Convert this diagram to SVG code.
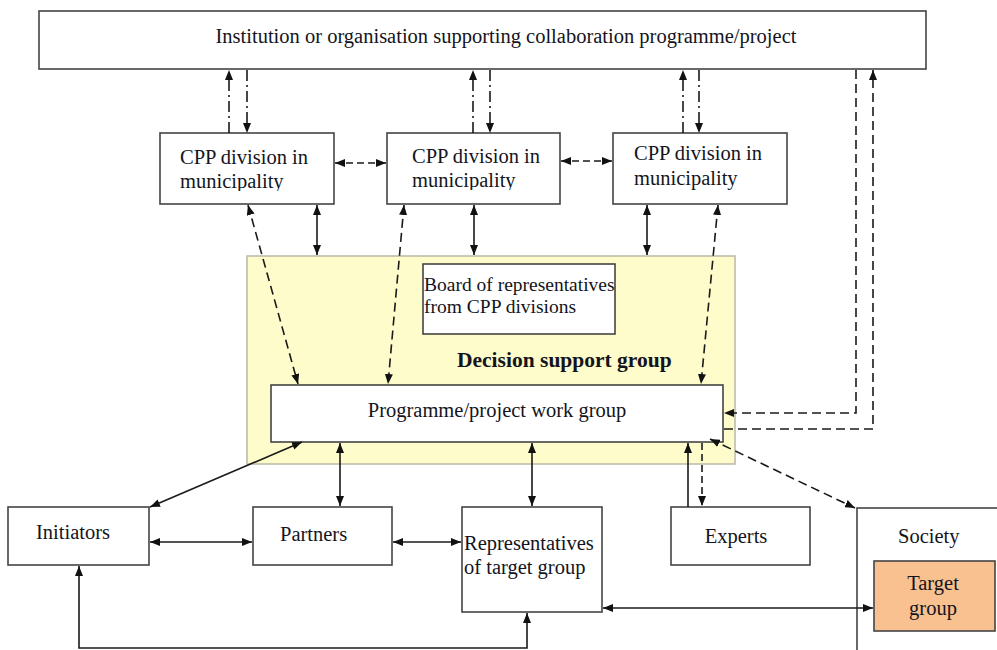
<svg xmlns="http://www.w3.org/2000/svg" width="997" height="650" viewBox="0 0 997 650">
<style>
text{font-family:"Liberation Serif","Times New Roman",serif;font-size:20.5px;fill:#141420}
.box{fill:#fff;stroke:#444;stroke-width:1.6}
.ln{fill:none;stroke:#1a1a1a;stroke-width:1.6}
.dd{stroke-dasharray:11,4,2,4}
.da{stroke-dasharray:9,5}
.ds{stroke-dasharray:7,4}
</style>
<defs>
<marker id="a" viewBox="0 0 10 8" refX="10" refY="4" markerWidth="10" markerHeight="8" orient="auto-start-reverse" markerUnits="userSpaceOnUse"><path d="M0,0 L10,4 L0,8 z" fill="#111"/></marker>
<clipPath id="c1"><rect x="160" y="133" width="174" height="58"/></clipPath>
<clipPath id="c2"><rect x="387" y="133" width="173" height="57"/></clipPath>
</defs>

<g id="institution">
<rect class="box" x="39" y="11" width="887" height="58"/>
<text x="506" y="43" text-anchor="middle">Institution or organisation supporting collaboration programme/project</text>
</g>
<g id="cpp1">
<rect class="box" x="160" y="133" width="174" height="71"/>
<g clip-path="url(#c1)"><text x="180" y="164">CPP division in</text><text x="180" y="188">municipality</text></g>
</g>
<g id="cpp2">
<rect class="box" x="387" y="133" width="173" height="71"/>
<g clip-path="url(#c2)"><text x="412" y="163">CPP division in</text><text x="412" y="187">municipality</text></g>
</g>
<g id="cpp3">
<rect class="box" x="613" y="133" width="174" height="71"/>
<text x="634" y="160">CPP division in</text><text x="634" y="185">municipality</text>
</g>
<g id="decision-support-group">
<rect x="247" y="256" width="488" height="208" fill="#fdfcca" stroke="#b8b8a8" stroke-width="1.5"/>
<text x="457" y="367" font-weight="bold" style="font-size:21.5px">Decision support group</text>
</g>
<g id="board">
<rect class="box" x="423" y="264" width="192" height="70"/>
<text x="424" y="291" style="font-size:19.5px">Board of representatives</text>
<text x="424" y="313" style="font-size:19.5px">from CPP divisions</text>
</g>
<g id="work-group">
<rect class="box" x="271" y="385" width="452" height="57"/>
<text x="497" y="417" text-anchor="middle">Programme/project work group</text>
</g>
<g id="initiators">
<rect class="box" x="8" y="507" width="141" height="58"/>
<text x="36" y="539">Initiators</text>
</g>
<g id="partners">
<rect class="box" x="253" y="507" width="139" height="58"/>
<text x="280" y="541">Partners</text>
</g>
<g id="representatives">
<rect class="box" x="462" y="507" width="140" height="105"/>
<text x="464" y="550">Representatives</text>
<text x="464" y="574">of target group</text>
</g>
<g id="experts">
<rect class="box" x="671" y="507" width="139" height="58"/>
<text x="736" y="543" text-anchor="middle">Experts</text>
</g>
<g id="society">
<rect class="box" x="857" y="508" width="160" height="160"/>
<text x="898" y="543">Society</text>
</g>
<g id="target-group">
<rect x="874" y="561" width="121" height="70" fill="#f8c18f" stroke="#444" stroke-width="1.6"/>
<text x="933" y="590" text-anchor="middle">Target</text>
<text x="933" y="615" text-anchor="middle">group</text>
</g>

<g id="connectors">
<line class="ln dd" x1="229" y1="133" x2="229" y2="70" marker-end="url(#a)"/>
<line class="ln dd" x1="247" y1="70" x2="247" y2="133" marker-end="url(#a)"/>
<line class="ln dd" x1="473" y1="133" x2="473" y2="70" marker-end="url(#a)"/>
<line class="ln dd" x1="490" y1="70" x2="490" y2="133" marker-end="url(#a)"/>
<line class="ln dd" x1="683" y1="133" x2="683" y2="70" marker-end="url(#a)"/>
<line class="ln dd" x1="699" y1="70" x2="699" y2="133" marker-end="url(#a)"/>

<line class="ln ds" x1="335" y1="163" x2="386" y2="163" marker-start="url(#a)" marker-end="url(#a)"/>
<line class="ln ds" x1="561" y1="161" x2="612" y2="161" marker-start="url(#a)" marker-end="url(#a)"/>

<line class="ln" x1="317" y1="205" x2="317" y2="255" marker-start="url(#a)" marker-end="url(#a)"/>
<line class="ln" x1="474" y1="205" x2="474" y2="255" marker-start="url(#a)" marker-end="url(#a)"/>
<line class="ln" x1="647" y1="205" x2="647" y2="255" marker-start="url(#a)" marker-end="url(#a)"/>

<line class="ln da" x1="248" y1="205" x2="298" y2="384" marker-start="url(#a)" marker-end="url(#a)"/>
<line class="ln da" x1="404" y1="205" x2="388" y2="384" marker-start="url(#a)" marker-end="url(#a)"/>
<line class="ln da" x1="718" y1="205" x2="701" y2="384" marker-start="url(#a)" marker-end="url(#a)"/>

<path class="ln da" d="M856,70 V413 H724" marker-end="url(#a)"/>
<path class="ln da" d="M724,429 H873 V70" marker-end="url(#a)"/>

<line class="ln" x1="150" y1="507" x2="302" y2="442" marker-start="url(#a)" marker-end="url(#a)"/>
<line class="ln" x1="340" y1="443" x2="340" y2="506" marker-start="url(#a)" marker-end="url(#a)"/>
<line class="ln" x1="532" y1="443" x2="532" y2="506" marker-start="url(#a)" marker-end="url(#a)"/>
<line class="ln" x1="150" y1="542" x2="252" y2="542" marker-start="url(#a)" marker-end="url(#a)"/>
<line class="ln" x1="393" y1="542" x2="461" y2="542" marker-start="url(#a)" marker-end="url(#a)"/>
<line class="ln" x1="688" y1="507" x2="688" y2="443" marker-end="url(#a)"/>
<line class="ln ds" x1="702" y1="443" x2="702" y2="506" marker-end="url(#a)"/>
<line class="ln da" x1="710" y1="439" x2="855" y2="508" marker-start="url(#a)" marker-end="url(#a)"/>
<line class="ln" x1="603" y1="608" x2="873" y2="608" marker-start="url(#a)" marker-end="url(#a)"/>
<path class="ln" d="M79,566 V648 H527 V613" marker-start="url(#a)" marker-end="url(#a)"/>
</g>
</svg>
